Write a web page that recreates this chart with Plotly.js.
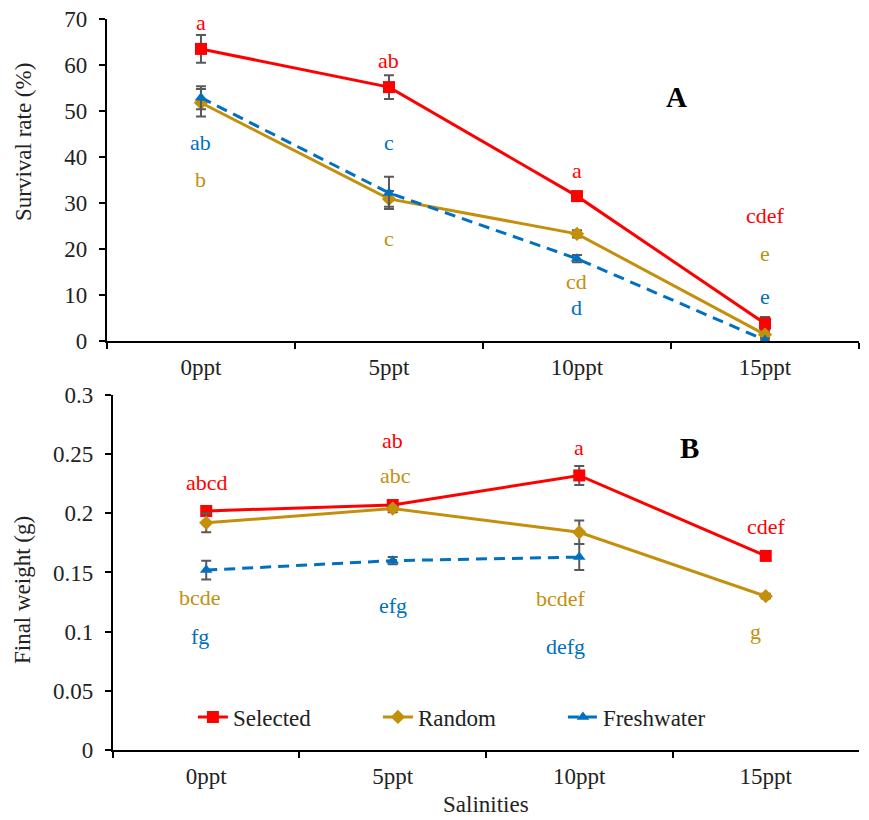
<!DOCTYPE html>
<html>
<head>
<meta charset="utf-8">
<script src="https://cdn.plot.ly/plotly-3.0.1.min.js"></script>
<style>html,body{margin:0;padding:0;background:#fff;}#chart{width:869px;height:820px;}</style>
</head>
<body>
<div id="chart"></div>
<script>
// ---------- data ----------
var salinities = ['0ppt', '5ppt', '10ppt', '15ppt'];

// Panel A: survival rate (%)
var survSelected      = [63.5, 55.2, 31.5, 3.8];
var survSelectedErr   = [3.0, 2.6, 1.0, 1.4];
var survRandom        = [51.8, 30.9, 23.3, 1.4];
var survRandomErr     = [3.0, 1.7, 0.8, 0.6];
var survFresh         = [52.9, 32.2, 17.9, 0.2];
var survFreshErr      = [2.5, 3.5, 0.8, 0.3];

// Panel B: final weight (g)
var wtSelected        = [0.202, 0.207, 0.232, 0.164];
var wtSelectedErr     = [0.003, 0.003, 0.008, 0.002];
var wtRandom          = [0.192, 0.204, 0.184, 0.130];
var wtRandomErr       = [0.008, 0.003, 0.010, 0.002];
var wtFresh           = [0.152, 0.160, 0.163, null];
var wtFreshErr        = [0.008, 0.003, 0.011, 0];

// significance letters
var lettersA = {
  selected: ['a', 'ab', 'a', 'cdef'],
  random:   ['b', 'c', 'cd', 'e'],
  fresh:    ['ab', 'c', 'd', 'e']
};
var lettersB = {
  selected: ['abcd', 'ab', 'a', 'cdef'],
  random:   ['bcde', 'abc', 'bcdef', 'g'],
  fresh:    ['fg', 'efg', 'defg', '']
};
// ---------- styles ----------
var RED = '#FF0000', GOLD = '#C4900C', BLUE = '#0070C0', ERR = '#595959';
var FONT = 'Liberation Serif';
var TXT = '#222';

function tr(y, err, name, color, sym, msize, dash, xa, ya, showleg) {
  return {
    x: salinities, y: y, name: name, type: 'scatter', mode: 'lines+markers',
    xaxis: xa, yaxis: ya, showlegend: showleg, connectgaps: false,
    line: {color: color, width: 3, dash: dash},
    marker: {color: color, symbol: sym, size: msize},
    error_y: {type: 'data', array: err, visible: true, color: ERR, thickness: 2, width: 5}
  };
}

var data = [
  tr(survSelected, survSelectedErr, 'Selected', RED, 'square', 12, 'solid', 'x', 'y', false),
  tr(survRandom, survRandomErr, 'Random', GOLD, 'diamond', 11, 'solid', 'x', 'y', false),
  tr(survFresh, survFreshErr, 'Freshwater', BLUE, 'triangle-up', 11, '11px,7px', 'x', 'y', false),
  tr(wtSelected, wtSelectedErr, 'Selected', RED, 'square', 12, 'solid', 'x2', 'y2', true),
  tr(wtRandom, wtRandomErr, 'Random', GOLD, 'diamond', 11, 'solid', 'x2', 'y2', true),
  tr(wtFresh, wtFreshErr, 'Freshwater', BLUE, 'triangle-up', 11, '11px,7px', 'x2', 'y2', true)
];

// letter label placement (axis units / pixel shifts)
var letterYA = {
  selected: [69.2, 61, 37.1, 27.2],
  random:   [35.2, 22.3, 13.0, 19.1],
  fresh:    [43.1, 43.1, 7.2, 9.6]
};
var letterYB = {
  selected: [0.226, 0.2615, 0.2554, 0.1892],
  random:   [0.1286, 0.232, 0.1283, 0.100],
  fresh:    [0.0963, 0.1225, 0.0877, 0]
};
var shiftB = {
  selected: [1, 0, 0, 1],
  random:   [-6, 3, -18, -10],
  fresh:    [-6, 0, -14, 0]
};
var letterColors = {selected: RED, random: GOLD, fresh: BLUE};

var annotations = [];
['selected', 'random', 'fresh'].forEach(function (k) {
  salinities.forEach(function (s, i) {
    if (lettersA[k][i]) annotations.push({x: s, y: letterYA[k][i], xref: 'x', yref: 'y', text: lettersA[k][i],
      xanchor: 'center', yanchor: 'middle',
      showarrow: false, borderpad: 0, font: {family: FONT, size: 22, color: letterColors[k]}});
    if (lettersB[k][i]) annotations.push({x: s, y: letterYB[k][i], xref: 'x2', yref: 'y2', text: lettersB[k][i],
      xanchor: 'center', yanchor: 'middle',
      xshift: shiftB[k][i], showarrow: false, borderpad: 0, font: {family: FONT, size: 22, color: letterColors[k]}});
  });
});
function paperText(x, y, text, size, color, angle) {
  return {x: x, y: y, xref: 'paper', yref: 'paper', xanchor: 'center', yanchor: 'middle', text: text,
    textangle: angle || 0, showarrow: false, font: {family: FONT, size: size, color: color}};
}
annotations.push(
  paperText(0.779, 0.8817, '<b>A</b>', 29, '#000'),
  paperText(0.793, 0.4537, '<b>B</b>', 29, '#000'),
  paperText(0.0265, 0.8268, 'Survival rate (%)', 23, TXT, -90),
  paperText(0.0265, 0.2805, 'Final weight (g)', 23, TXT, -90),
  paperText(0.559, 0.0195, 'Salinities', 23, TXT)
);

var xcommon = {
  type: 'category', range: [-0.5, 3.5], tickson: 'boundaries', ticks: 'outside', ticklen: 6, tickwidth: 2,
  tickcolor: '#000', showline: true, linecolor: '#000', linewidth: 2, showgrid: false, zeroline: false,
  ticklabelstandoff: 4, tickfont: {family: FONT, size: 23, color: TXT}
};
var ycommon = {
  ticks: 'outside', ticklen: 6, tickwidth: 2, tickcolor: '#000', showline: true, linecolor: '#000', linewidth: 2,
  showgrid: false, zeroline: false, ticklabelstandoff: 7, tickfont: {family: FONT, size: 23, color: TXT}
};

var layout = {
  width: 869, height: 820, margin: {l: 0, r: 0, t: 0, b: 0},
  paper_bgcolor: '#fff', plot_bgcolor: '#fff', showlegend: true,
  font: {family: FONT, size: 23, color: TXT},
  xaxis: Object.assign({}, xcommon, {domain: [0.1231, 0.9885], anchor: 'y'}),
  yaxis: Object.assign({}, ycommon, {domain: [0.5841, 0.9768], range: [0, 70], dtick: 10, anchor: 'x'}),
  xaxis2: Object.assign({}, xcommon, {domain: [0.130, 0.9885], anchor: 'y2'}),
  yaxis2: Object.assign({}, ycommon, {domain: [0.0854, 0.5183], range: [0, 0.3], dtick: 0.05, anchor: 'x2'}),
  legend: {orientation: 'h', x: 0.222, xanchor: 'left', y: 0.1256, yanchor: 'middle', bgcolor: 'rgba(0,0,0,0)',
    font: {family: FONT, size: 23, color: TXT}, entrywidth: 140, itemwidth: 30},
  annotations: annotations
};

Plotly.newPlot('chart', data, layout, {displayModeBar: false, staticPlot: true});
</script>
</body>
</html>
